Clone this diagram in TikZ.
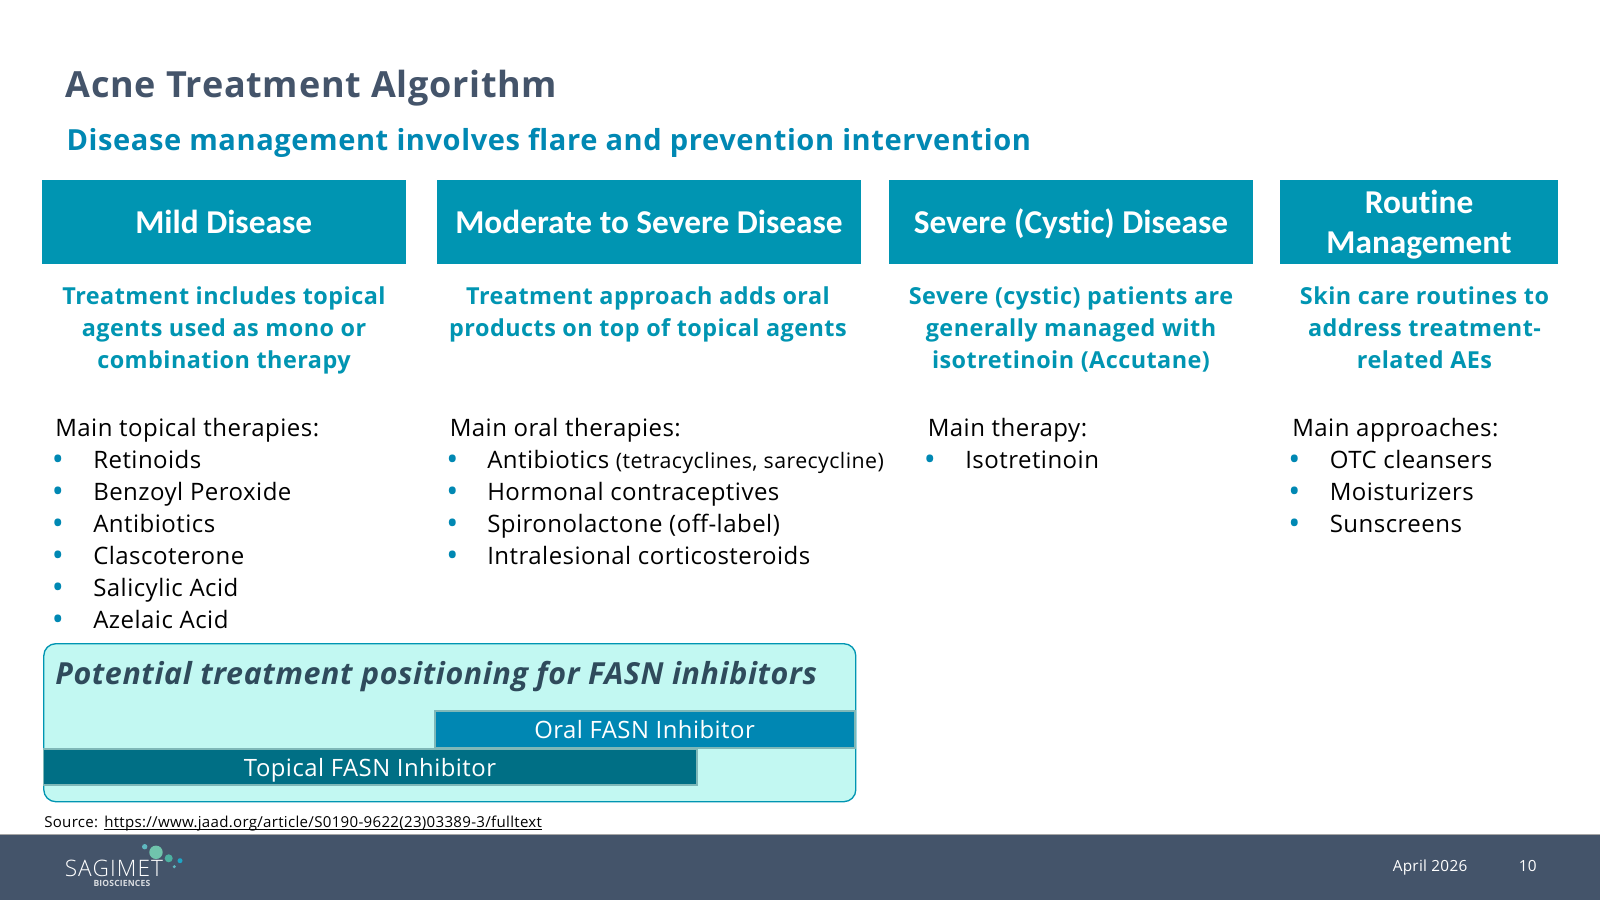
\documentclass[tikz,border=0pt]{standalone}
\usepackage{fontspec}
\setmainfont{Open Sans}[LetterSpace=2]
\newfontfamily\hdfont{Carlito}[Ligatures=NoCommon]
\newfontfamily\logofont{Open Sans Light}[LetterSpace=5]
\definecolor{slate}{HTML}{44546A}
\definecolor{teal1}{HTML}{0095B2}
\definecolor{sub1}{HTML}{0088B3}
\definecolor{lightbox}{HTML}{C2F8F2}
\definecolor{oralc}{HTML}{0087B3}
\definecolor{topc}{HTML}{006F85}
\definecolor{ital}{HTML}{2F4B5C}
\definecolor{barline}{HTML}{7FB8B8}
\definecolor{logoa}{HTML}{70C4AC}
\definecolor{logob}{HTML}{4DB0A0}
\definecolor{logoc}{HTML}{1FA5C5}
\definecolor{logod}{HTML}{5FB8C0}
\definecolor{bulletc}{HTML}{0088B3}
\newcommand{\fs}[1]{\fontsize{#1}{#1}\selectfont}
\tikzset{
 x=0.75pt,y=-0.75pt,
 hdtxt/.style={anchor=base,text=white,font=\hdfont\bfseries\fs{25},inner sep=0pt},
 subt/.style={anchor=base,text=teal1,font=\bfseries\fs{17.55},inner sep=0pt},
 body/.style={anchor=base west,text=black,font=\fs{18},inner sep=0pt},
 blt/.style={anchor=base west,text=bulletc,font=\fs{24},inner sep=0pt,xshift=-1.5pt,yshift=-2pt},
 bar/.style={draw=barline,line width=0.8pt,inner sep=0pt},
 bartxt/.style={anchor=base,text=white,font=\fs{17.9},inner sep=0pt},
}
\begin{document}
\begin{tikzpicture}
\useasboundingbox (0,0) rectangle (1600,900);
\fill[white] (0,0) rectangle (1600,900);
% title
\node[anchor=base west,inner sep=0pt,text=slate,font=\bfseries\fs{27}] (title) at (65.3,97) {Acne Treatment Algorithm};
\node[anchor=base west,inner sep=0pt,text=sub1,font=\bfseries\fs{21.8}] (subtitle) at (66.3,150) {Disease management involves flare and prevention intervention};
% headers
\path[fill=teal1] (41.5,180) rectangle (406,264);
\path[fill=teal1] (437,180) rectangle (861,264);
\path[fill=teal1] (889,180) rectangle (1253,264);
\path[fill=teal1] (1279.5,180) rectangle (1558,264);
\node[hdtxt] (h1) at (223.7,233.5) {Mild Disease};
\node[hdtxt] (h2) at (649,233.5) {Moderate to Severe Disease};
\node[hdtxt] (h3) at (1071,233.5) {Severe (Cystic) Disease};
\node[hdtxt] (h4a) at (1419,213.5) {Routine};
\node[hdtxt] (h4b) at (1419,253.5) {Management};
% sub text
\node[subt] (s1a) at (224,304.3) {Treatment includes topical};
\node[subt] (s1b) at (224,336.3) {agents used as mono or};
\node[subt] (s1c) at (224,368.3) {combination therapy};
\node[subt] (s2a) at (648,304.3) {Treatment approach adds oral};
\node[subt] (s2b) at (648,336.3) {products on top of topical agents};
\node[subt] (s3a) at (1071,304.3) {Severe (cystic) patients are};
\node[subt] (s3b) at (1071,336.3) {generally managed with};
\node[subt] (s3c) at (1071,368.3) {isotretinoin (Accutane)};
\node[subt] (s4a) at (1424.5,304.3) {Skin care routines to};
\node[subt] (s4b) at (1424.5,336.3) {address treatment-};
\node[subt] (s4c) at (1424.5,368.3) {related AEs};
% col 1
\node[body] (c1h) at (55,436) {Main topical therapies:};
\foreach \n/\y/\t in {1/468/Retinoids,2/500/Benzoyl Peroxide,3/532/Antibiotics,4/564/Clascoterone,5/596/Salicylic Acid,6/628/Azelaic Acid}{
  \node[blt] (c1b\n) at (53.5,\y) {•};
  \node[body] (c1t\n) at (93,\y) {\t};
}
% col 2
\node[body] (c2h) at (449.5,436) {Main oral therapies:};
\foreach \n/\y/\t in {1/468/{Antibiotics {\fs{16}(tetracyclines, sarecycline)}},2/500/Hormonal contraceptives,3/532/Spironolactone (off-label),4/564/Intralesional corticosteroids}{
  \node[blt] (c2b\n) at (448,\y) {•};
  \node[body] (c2t\n) at (487,\y) {\t};
}
% col 3
\node[body] (c3h) at (927.5,436) {Main therapy:};
\node[blt] (c3b1) at (925.5,468) {•};
\node[body] (c3t1) at (965,468) {Isotretinoin};
% col 4
\node[body] (c4h) at (1292,436) {Main approaches:};
\foreach \n/\y/\t in {1/468/OTC cleansers,2/500/Moisturizers,3/532/Sunscreens}{
  \node[blt] (c4b\n) at (1290,\y) {•};
  \node[body] (c4t\n) at (1329.5,\y) {\t};
}
% FASN box
\draw[draw=teal1,fill=lightbox,line width=1pt,rounded corners=9pt] (43.8,643.7) rectangle (855.8,801.7);
\node[anchor=base west,inner sep=0pt,text=ital,font=\bfseries\itshape\fs{22.8}] (fasn) at (55,684) {Potential treatment positioning for FASN inhibitors};
\path[bar,fill=oralc] (435,711) rectangle (855,748);
\path[bar,fill=topc] (43.8,749) rectangle (697,785);
\node[bartxt] (oral) at (644.5,738) {Oral FASN Inhibitor};
\node[bartxt] (topical) at (370,776) {Topical FASN Inhibitor};
% source
\node[anchor=base west,inner sep=0pt,text=black,font=\fs{11.3}] (src) at (44,827) {Source:};
\node[anchor=base west,inner sep=0pt,text=black,font=\fs{11.3}] (url) at (104,827) {https://www.jaad.org/article/S0190-9622(23)03389-3/fulltext};
\draw[black,line width=0.5pt] ([yshift=-1.4pt]url.base west) -- ([yshift=-1.4pt]url.base east);
% footer
\fill[slate] (0,834.5) rectangle (1600,900);
\draw[gray!70,line width=0.6pt] (0,834.5) -- (1600,834.5);
\node[anchor=base west,inner sep=0pt,text=white,font=\fs{11.5}] (date) at (1392.5,871) {April 2026};
\node[anchor=base west,inner sep=0pt,text=white,font=\fs{11.5}] (page) at (1518.5,871) {10};
% logo
\fill[logoa] (156,852.3) circle (6.7);
\fill[logob] (168.7,858.3) circle (4);
\fill[logoc] (180,860.7) circle (2.5);
\fill[logod] (144.7,846.7) circle (2.7);
\fill[logod] (174.3,866.7) circle (1.7);
\node[anchor=base west,inner sep=0pt,text=white,font=\logofont\fs{17}] (logo) at (64.5,876.7) {SAGIMET};
\node[anchor=base west,inner sep=0pt,text=white!80!slate,font=\bfseries\fs{6.4}] (logob) at (93.3,886.7) {BIOSCIENCES};
\end{tikzpicture}
\end{document}
